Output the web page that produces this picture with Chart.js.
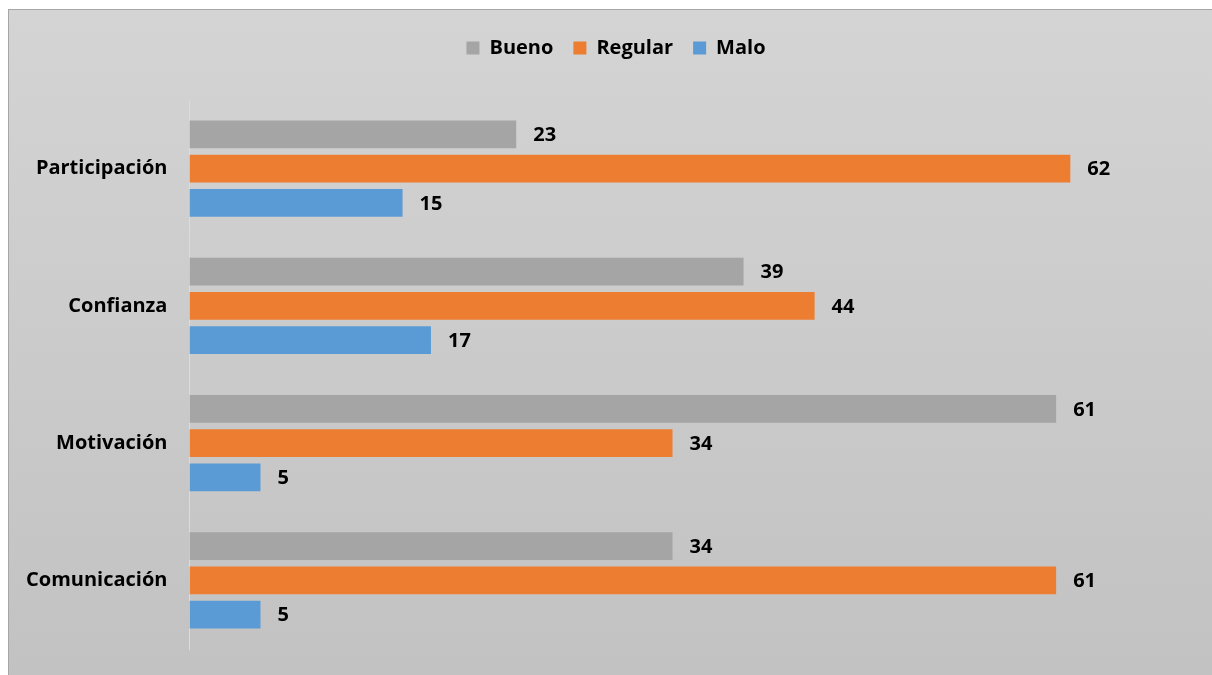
<!DOCTYPE html>
<html>
<head>
<meta charset="utf-8">
<script src="https://cdn.jsdelivr.net/npm/chart.js@4"></script>
<style>
  html, body { margin: 0; padding: 0; background: #fff; }
  #wrap { width: 1212px; height: 675px; }
</style>
</head>
<body>
<div id="wrap"><canvas id="barChart"></canvas></div>
<script>
var categorias = ['Participación', 'Confianza', 'Motivación', 'Comunicación'];
var bueno   = [23, 39, 61, 34];
var regular = [62, 44, 34, 61];
var malo    = [15, 17, 5, 5];

// fondo con degradado y borde, como el cuadro de Excel
var fondo = {
    id: 'fondo',
    beforeDraw: function (chart) {
        var ctx = chart.ctx
        var g = ctx.createLinearGradient(0, 9, 0, 675)
        g.addColorStop(0, '#d4d4d4')
        g.addColorStop(1, '#c2c2c2')
        ctx.save()
        ctx.fillStyle = g
        ctx.fillRect(8.5, 9.5, 1210, 670)
        ctx.strokeStyle = '#a6a6a6'
        ctx.lineWidth = 1
        ctx.strokeRect(8.5, 9.5, 1210, 670)
        ctx.restore()
    }
}

// mas espacio entre la leyenda y las barras, y leyenda un poco a la derecha
var espacioLeyenda = {
    id: 'espacioLeyenda',
    beforeInit: function (chart) {
        var legend = chart.legend
        var fitOrig = legend.fit
        legend.fit = function () {
            fitOrig.bind(legend)()
            this.height += 32
        }
        var drawOrig = legend.draw
        legend.draw = function () {
            var ctx = chart.ctx
            ctx.save()
            ctx.translate(18, 0)
            drawOrig.bind(legend)()
            ctx.restore()
        }
    }
}

// etiquetas de valor al final de cada barra
var etiquetas = {
    id: 'etiquetas',
    afterDatasetsDraw: function (chart) {
        var ctx = chart.ctx
        ctx.save()
        ctx.font = 'bold 20px "Open Sans"'
        ctx.fillStyle = '#000'
        ctx.textAlign = 'left'
        ctx.textBaseline = 'middle'
        chart.data.datasets.forEach(function (ds, i) {
            chart.getDatasetMeta(i).data.forEach(function (bar, j) {
                ctx.fillText(ds.data[j], bar.x + 17, bar.y + 1)
            })
        })
        ctx.restore()
    }
}

var barChartCanvas = document.getElementById('barChart').getContext('2d')

new Chart(barChartCanvas, {
    type: 'bar',
    data: {
        labels: categorias,
        datasets: [
            { label: 'Bueno',   backgroundColor: '#a5a5a5', data: bueno },
            { label: 'Regular', backgroundColor: '#ed7d31', data: regular },
            { label: 'Malo',    backgroundColor: '#5b9bd5', data: malo }
        ]
    },
    options: {
        indexAxis: 'y',
        responsive: true,
        maintainAspectRatio: false,
        animation: false,
        barPercentage: 0.81,
        categoryPercentage: 0.75,
        layout: { padding: { top: 18, bottom: 8, left: 12, right: 28 } },
        plugins: {
            tooltip: { enabled: false },
            legend: {
                position: 'top',
                labels: {
                    boxWidth: 13,
                    boxHeight: 13,
                    padding: 20,
                    color: '#000',
                    font: { family: 'Open Sans', size: 20, weight: 'bold' }
                }
            }
        },
        scales: {
            x: {
                display: false,
                min: 0,
                max: 70
            },
            y: {
                grid: { display: false },
                border: { display: true, color: '#dcdcdc', width: 1 },
                ticks: {
                    color: '#000',
                    padding: 14,
                    font: { family: 'Open Sans', size: 20, weight: 'bold' }
                }
            }
        }
    },
    plugins: [fondo, espacioLeyenda, etiquetas]
})
</script>
</body>
</html>
